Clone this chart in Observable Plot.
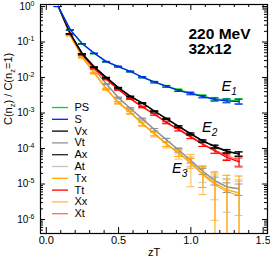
<!DOCTYPE html>
<html><head><meta charset="utf-8">
<script src="https://cdn.jsdelivr.net/npm/d3@7"></script>
<script src="https://cdn.jsdelivr.net/npm/@observablehq/plot@0.6"></script>
<style>body{margin:0;background:#fff}</style>
</head><body><div id="chart"></div>
<script>
// ---------- data ----------
const zT = [0.0833,0.1667,0.25,0.3333,0.4167,0.5,0.5833,0.6667,0.75,0.8333,0.9167,1.0,1.0833,1.1667,1.25,1.3333];
const names = ["PS","S","Vx","Vt","Ax","At","Tx","Tt","Xx","Xt"];
const PS = [1,0.215,0.088,0.047,0.0275,0.0200,0.0146,0.0101,0.0074,0.0057,0.0045,0.0037,0.0030,0.0025,0.0023,0.0022];
const S  = [1,0.22,0.089,0.048,0.028,0.0204,0.0148,0.0102,0.0074,0.0056,0.0043,0.0035,0.0029,0.0024,0.0022,0.0021];
const Vx = [1,0.17,0.046,0.0195,0.0098,0.0051,0.0029,0.0019,0.00112,0.00069,0.00042,0.00026,0.000165,0.000115,8.5e-5,7.1e-5];
const Ax = [1,0.171,0.047,0.0198,0.0100,0.0052,0.00295,0.00188,0.00110,0.00068,0.00041,0.000255,0.00016,0.000112,8.2e-5,7.0e-5];
const Tt = [1,0.165,0.043,0.018,0.0088,0.0045,0.0025,0.00146,0.00091,0.00053,0.00034,0.00021,0.00013,8.6e-5,5.6e-5,4.2e-5];
const Xt = [1,0.166,0.044,0.0183,0.0090,0.0046,0.00255,0.0015,0.00093,0.00055,0.00035,0.00022,0.000135,9.0e-5,6.3e-5,4.6e-5];
const Vt = [1,0.16,0.042,0.0172,0.0066,0.0027,0.00135,0.00068,0.00034,0.000175,9.0e-5,4.6e-5,2.3e-5,1.25e-5,8.3e-6,7.4e-6];
const At = [1,0.158,0.041,0.0168,0.0064,0.0026,0.0013,0.00066,0.00033,0.00017,8.8e-5,4.5e-5,2.2e-5,1.2e-5,8.0e-6,7.2e-6];
const Tx = [1,0.153,0.037,0.0135,0.0048,0.0020,0.00105,0.0005,0.00026,0.000135,7.5e-5,4.0e-5,1.9e-5,1.05e-5,6.8e-6,5.6e-6];
const Xx = [1,0.150,0.036,0.0130,0.0046,0.0019,0.0010,0.00048,0.00025,0.00013,7.2e-5,3.8e-5,1.8e-5,9.5e-6,6.0e-6,4.8e-6];
// relative errors
const errPS = [0,.01,.01,.02,.02,.03,.03,.04,.05,.05,.06,.07,.08,.10,.12,.16];
const errS  = [0,.01,.01,.02,.02,.03,.03,.04,.05,.05,.06,.07,.08,.10,.12,.16];
const errVx = [0,.01,.01,.01,.02,.02,.02,.03,.03,.04,.05,.06,.07,.09,.11,.14];
const errAx = [0,.01,.01,.01,.02,.02,.02,.03,.03,.04,.05,.06,.07,.09,.11,.14];
const errTt = [0,.01,.01,.02,.02,.03,.03,.04,.05,.06,.08,.10,.12,.15,.18,.28];
const errXt = [0,.01,.01,.02,.03,.03,.04,.05,.06,.08,.10,.12,.15,.18,.22,.30];
const errVt = [0,.01,.02,.02,.03,.04,.05,.06,.08,.10,.12,.15,.20,.25,.30,.35];
const errAt = [0,.01,.02,.03,.04,.05,.06,.08,.10,.14,.20,.30,.50,.70,.80,.82];
const errTx = [0,.02,.03,.04,.05,.06,.08,.10,.12,.15,.20,.30,.58,1.1,1.6,2.0];
const errXx = [0,.02,.03,.04,.05,.07,.09,.12,.15,.20,.30,.78,.72,.90,1.2,1.5];
const yMajor = [1,1e-1,1e-2,1e-3,1e-4,1e-5,1e-6];
const yMajorLabels = ["10^{0}","10^{-1}","10^{-2}","10^{-3}","10^{-4}","10^{-5}","10^{-6}"];
const xMajor = [0,0.5,1,1.5];
const xMajorLabels = ["0.0","0.5","1.0","1.5"];
const xMinor = [0.1,0.2,0.3,0.4,0.6,0.7,0.8,0.9,1.1,1.2,1.3,1.4];
const groupLabels = ["E_{1}","E_{2}","E_{3}"];

// ---------- styling ----------
const colors = {PS:"#00e000",S:"#0022ff",Vx:"#000000",Vt:"#909090",Ax:"#222222",At:"#c4c4c4",
  Tx:"#ffa500",Tt:"#ff0000",Xx:"#ffb84a",Xt:"#ff6a6a"};
const values = {PS,S,Vx,Vt,Ax,At,Tx,Tt,Xx,Xt};
const errors = {PS:errPS,S:errS,Vx:errVx,Vt:errVt,Ax:errAx,At:errAt,Tx:errTx,Tt:errTt,Xx:errXx,Xt:errXt};
const drawOrder = ["At","Xt","Xx","Vt","Tx","Tt","Ax","Vx","PS","S"];

const W=270,H=257,mL=40,mR=3,mT=4,mB=24;
const fw=W-mL-mR, fh=H-mT-mB;
const xDomain=[-0.04,1.53], yDomain=[4.04e-7,1.14];
const xs = Plot.scale({x:{domain:xDomain, range:[mL,W-mR]}});
const ys = Plot.scale({y:{type:"log", domain:yDomain, range:[H-mB,mT]}});

const yMinor=[];
for (let k=-7;k<=0;k++) for (let m=2;m<=9;m++){const v=m*Math.pow(10,k); if(v>yDomain[0]&&v<yDomain[1]) yMinor.push(v);}

const FONT = "'Liberation Sans', Arial, Helvetica, sans-serif";
const marks = [];
// error bars, caps, lines
const capHalf = xs.invert(mL+4) - xs.invert(mL);
for (const n of drawOrder) {
  const rows = zT.map((x,i)=>{const v=values[n][i], e=errors[n][i]*v; return {x, v, lo: Math.max(v-e,1e-12), hi: v+e};});
  const c = colors[n];
  marks.push(Plot.line(rows,{x:"x",y:"v",stroke:c,strokeWidth:1.3,clip:true}));
  marks.push(Plot.ruleX(rows,{x:"x",y1:"lo",y2:"hi",stroke:c,strokeWidth:1,clip:true}));
  marks.push(Plot.ruleY(rows,{y:"lo",x1:d=>d.x-capHalf,x2:d=>d.x+capHalf,stroke:c,strokeWidth:1,clip:true}));
  marks.push(Plot.ruleY(rows,{y:"hi",x1:d=>d.x-capHalf,x2:d=>d.x+capHalf,stroke:c,strokeWidth:1,clip:true}));
}
// ticks (inward, all four sides)
marks.push(
  Plot.tickY(yMajor,{y:d=>d,insetRight:fw-5,stroke:"black"}),
  Plot.tickY(yMinor,{y:d=>d,insetRight:fw-3,stroke:"black"}),
  Plot.tickY(yMajor,{y:d=>d,insetLeft:fw-5,stroke:"black"}),
  Plot.tickY(yMinor,{y:d=>d,insetLeft:fw-3,stroke:"black"}),
  Plot.tickX(xMajor,{x:d=>d,insetTop:fh-6,stroke:"black"}),
  Plot.tickX(xMinor,{x:d=>d,insetTop:fh-3,stroke:"black"}),
  Plot.tickX(xMajor,{x:d=>d,insetBottom:fh-6,stroke:"black"}),
  Plot.tickX(xMinor,{x:d=>d,insetBottom:fh-3,stroke:"black"}),
  Plot.frame({stroke:"black",strokeWidth:1.2}),
  Plot.axisY({ticks:yMajor,tickSize:0,tickPadding:6,fontSize:10,label:null,tickFormat:d=>yMajorLabels[yMajor.indexOf(d)]}),
  Plot.axisX({ticks:xMajor,tickSize:0,tickPadding:3,fontSize:11,label:null,tickFormat:d=>xMajorLabels[xMajor.indexOf(d)]})
);
// legend
const legendRows = names.map((n,i)=>({n, y: ys.invert(107+i*11.8)}));
marks.push(
  Plot.ruleY(legendRows,{y:"y",x1:xs.invert(52),x2:xs.invert(68),stroke:d=>colors[d.n],strokeWidth:1.3}),
  Plot.text(legendRows,{y:"y",x:xs.invert(74),text:"n",textAnchor:"start",lineAnchor:"middle",fontSize:11,fill:"black"})
);
// annotations
const annPix = [[221,90,14.5],[201.5,131.5,14],[171.5,172.5,14]];
const ann = groupLabels.map((t,i)=>({t, x: xs.invert(annPix[i][0]), y: ys.invert(annPix[i][1]), fs: annPix[i][2]}));
marks.push(
  Plot.text(ann,{x:"x",y:"y",text:"t",textAnchor:"start",lineAnchor:"bottom",fontSize:14.5,fontStyle:"italic",fill:"black"}),
  Plot.text(["220 MeV\n32x12"],{frameAnchor:"top-left",dx:148,dy:23,lineAnchor:"top",lineHeight:1,textAnchor:"start",fontSize:15.5,fontWeight:"bold",fill:"black"}),
  Plot.text(["C(n_{z}) / C(n_{z}=1)"],{frameAnchor:"left",dx:-32,dy:6,rotate:-90,fontSize:11,fill:"black"}),
  Plot.text(["zT"],{frameAnchor:"bottom",dy:19,lineAnchor:"middle",fontSize:11,fill:"black"})
);

const chart = Plot.plot({
  width:W,height:H,marginLeft:mL,marginRight:mR,marginTop:mT,marginBottom:mB,
  x:{domain:xDomain},
  y:{type:"log",domain:yDomain},
  style:{fontFamily:FONT,fontSize:"11px",background:"#fff",color:"black"},
  marks
});
document.getElementById("chart").appendChild(chart);

// rich text: _{sub} and ^{sup}
const NS="http://www.w3.org/2000/svg";
chart.querySelectorAll("text").forEach(t=>{
  if (t.querySelector("tspan")) return;
  const s=t.textContent; if(!/[_^]\{/.test(s)) return;
  const fs=parseFloat(getComputedStyle(t).fontSize)||11;
  t.textContent="";
  const re=/([_^])\{([^}]*)\}/g; let last=0,m,shift=0;
  const add=(txt,kind)=>{
    const ts=document.createElementNS(NS,"tspan"); ts.textContent=txt;
    const target = kind==="^" ? -0.42*fs : kind==="_" ? 0.28*fs : 0;
    const d=target-shift; if(d) ts.setAttribute("dy",d); shift=target;
    if(kind) ts.setAttribute("font-size",(0.7*fs).toFixed(2));
    t.appendChild(ts);
  };
  while((m=re.exec(s))){ if(m.index>last) add(s.slice(last,m.index),null); add(m[2],m[1]); last=re.lastIndex; }
  if(last<s.length) add(s.slice(last),null);
});
</script>
</body></html>
